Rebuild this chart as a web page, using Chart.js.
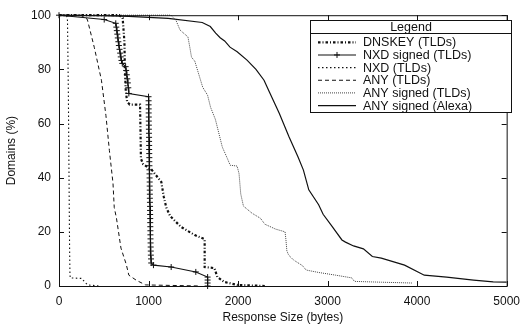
<!DOCTYPE html>
<html>
<head>
<meta charset="utf-8">
<script src="https://cdn.jsdelivr.net/npm/chart.js@4.4.1/dist/chart.umd.min.js"></script>
<style>
  html, body { margin: 0; padding: 0; background: #fff; }
  #wrap { width: 528px; height: 325px; }
</style>
</head>
<body>
<div id="wrap"><canvas id="chart" width="528" height="325"></canvas></div>
<script>
// ---- data: [response size (bytes), domains (%)] ----
const xTicks = [0, 1000, 2000, 3000, 4000, 5000];
const yTicks = [0, 20, 40, 60, 80, 100];

const dnskeyTlds = [
  [0,100],[672,100],[711,99],[731,90],[736,80],[746,72],[761,68],[790,67],[905,67],
  [912,54],[915,47],[940,45],[1033,43],[1143,38.4],[1170,33],[1198,29],[1242,25.8],
  [1363,21.8],[1517,18.8],[1627,17.3],[1627,7],[1736,6.6],[1769,3.3],[1846,1.5],
  [1989,0.4],[2300,0]
];

const nxdSignedTlds = [
  [0,100],[505,98.4],[634,97],[640,95.6],[646,94.3],[651,93],[657,91.6],[663,90.2],
  [669,88.8],[676,87.4],[683,86],[690,84.6],[698,83.3],[707,82.2],[744,81],[750,79.6],
  [757,78],[763,76.5],[769,75],[774,73.2],[780,71.1],[1000,69.9],[1001,68.4],
  [1001,66.9],[1002,65.4],[1002,63.9],[1003,62.4],[1003,60.9],[1004,59.4],[1004,57.9],
  [1005,56.4],[1006,54.9],[1006,53.4],[1007,51.9],[1007,50.4],[1008,48.9],[1009,47.4],
  [1009,45.9],[1010,44.4],[1011,42.9],[1011,41.4],[1012,39.9],[1013,38.4],[1013,36.9],
  [1014,35.4],[1015,33.9],[1015,32.4],[1016,30.9],[1017,29.4],[1017,27.9],[1018,26.4],
  [1019,24.9],[1019,23.4],[1020,21.9],[1021,20.4],[1021,18.9],[1022,17.4],[1023,15.9],
  [1024,14.4],[1025,12.9],[1026,11.4],[1028,10],[1030,8.5],[1055,7.7],[1253,7],
  [1528,5.2],[1660,3.3],[1660,2.2],[1660,1.1],[1660,0]
];

const nxdTlds = [
  [0,100],[85,100],[95,98],[105,70],[112,40],[118,15],[122,5],[125,3],[250,2.8],
  [320,0.4],[450,0]
];

const anyTlds = [
  [0,100],[245,100],[316,98.5],[395,88],[474,76],[524,63],[563,50],[603,38],[617,29],
  [642,25],[692,14],[751,8],[780,4],[869,2],[968,0.4],[1580,0]
];

const anySignedTlds = [
  [0,100],[1250,100],[1308,98],[1352,94.5],[1440,92],[1462,88],[1480,84.5],[1517,83],
  [1572,77],[1605,73.4],[1659,70.5],[1693,66],[1747,61.5],[1824,51.3],[1879,47.2],
  [1912,44.6],[1989,44.3],[2011,41.5],[2030,34],[2060,29.5],[2155,26.9],[2250,25],
  [2300,22.8],[2420,21],[2525,20],[2535,17],[2545,13],[2565,11.4],[2620,9.6],
  [2720,7.5],[2760,5.9],[2900,5],[3090,4],[3270,3],[3300,1.7],[3600,1.4],[3950,1.1]
];

const anySignedAlexa = [
  [0,100],[500,99.8],[780,99.6],[1220,98.8],[1600,97.3],[1690,95.8],[1750,93.4],
  [1800,91.7],[1850,90.5],[1910,88.2],[1990,86.5],[2100,83.4],[2200,80],[2290,76],
  [2350,71.6],[2460,63.8],[2570,55],[2670,47.6],[2730,42.8],[2790,35.5],[2900,30],
  [2950,26.5],[3050,22],[3160,17],[3200,16.2],[3290,14.8],[3400,13.7],[3500,10.9],
  [3600,10.3],[3860,7.7],[4080,4],[4330,3.3],[4630,2.2],[4850,1.5],[5000,1.4]
];

const FONT = '"Liberation Sans", Arial, sans-serif';
const INK = '#111';

const toXY = arr => arr.map(([x, y]) => ({ x, y }));

const series = [
  { label: 'DNSKEY (TLDs)',       data: dnskeyTlds,     width: 2.2, dash: [2.5, 2, 1, 2], color: '#111' },
  { label: 'NXD signed (TLDs)',   data: nxdSignedTlds,  width: 1.1, dash: [],             color: '#111', cross: true },
  { label: 'NXD (TLDs)',          data: nxdTlds,        width: 1.1, dash: [1.5, 2.5],     color: '#111' },
  { label: 'ANY (TLDs)',          data: anyTlds,        width: 1,   dash: [4, 3],         color: '#111' },
  { label: 'ANY signed (TLDs)',   data: anySignedTlds,  width: 1,   dash: [1, 1],         color: '#444' },
  { label: 'ANY signed (Alexa)',  data: anySignedAlexa, width: 1.2, dash: [],             color: '#111' },
];

// box round the plot, gnuplot style inward ticks, and the boxed key
const framePlugin = {
  id: 'frame',
  afterDraw(chart) {
    const { ctx, chartArea: a, scales: { x, y } } = chart;
    const tl = 5;
    ctx.save();
    ctx.strokeStyle = INK;
    ctx.lineWidth = 1;
    ctx.setLineDash([]);
    ctx.strokeRect(a.left + 0.5, a.top + 0.5, a.right - a.left, a.bottom - a.top);
    ctx.beginPath();
    xTicks.forEach(v => {
      const px = Math.round(x.getPixelForValue(v)) + 0.5;
      ctx.moveTo(px, a.bottom); ctx.lineTo(px, a.bottom - tl);
      ctx.moveTo(px, a.top);    ctx.lineTo(px, a.top + tl);
    });
    yTicks.forEach(v => {
      const py = Math.round(y.getPixelForValue(v)) + 0.5;
      ctx.moveTo(a.left, py);  ctx.lineTo(a.left + tl, py);
      ctx.moveTo(a.right, py); ctx.lineTo(a.right - tl, py);
    });
    ctx.stroke();

    // key
    const L = 310.5, R = 511.5, T = 20.5, S = 33.5, B = 112.5;
    ctx.fillStyle = '#fff';
    ctx.fillRect(L, T, R - L, B - T);
    ctx.strokeRect(L, T, R - L, B - T);
    ctx.beginPath(); ctx.moveTo(L, S); ctx.lineTo(R, S); ctx.stroke();
    ctx.fillStyle = INK;
    ctx.font = '12.5px ' + FONT;
    ctx.textBaseline = 'middle';
    ctx.textAlign = 'center';
    ctx.fillText('Legend', (L + R) / 2, 27.5);
    ctx.textAlign = 'left';
    series.forEach((s, i) => {
      const yy = 42.3 + i * 12.65;
      ctx.strokeStyle = s.color;
      ctx.lineWidth = s.width;
      ctx.setLineDash(s.dash);
      ctx.beginPath(); ctx.moveTo(318, yy); ctx.lineTo(356, yy); ctx.stroke();
      ctx.setLineDash([]);
      if (s.cross) {
        ctx.lineWidth = 1;
        ctx.beginPath();
        ctx.moveTo(337, yy - 3); ctx.lineTo(337, yy + 3);
        ctx.moveTo(334, yy); ctx.lineTo(340, yy);
        ctx.stroke();
      }
      ctx.fillText(s.label, 363, yy + 0.5);
    });
    ctx.restore();
  }
};

new Chart(document.getElementById('chart'), {
  type: 'line',
  data: {
    datasets: series.map(s => ({
      label: s.label,
      data: toXY(s.data),
      borderColor: s.color,
      backgroundColor: s.color,
      borderWidth: s.width,
      borderDash: s.dash,
      pointStyle: 'cross',
      pointRadius: s.cross ? 3 : 0,
      pointBorderWidth: 1,
      pointBorderColor: s.color,
      tension: 0,
      fill: false,
      clip: s.cross ? false : 2,
    }))
  },
  options: {
    responsive: false,
    devicePixelRatio: 1,
    animation: false,
    layout: { padding: { left: 0, right: 14, top: 15, bottom: 0 } },
    plugins: { legend: { display: false }, tooltip: { enabled: false } },
    scales: {
      x: {
        type: 'linear', min: 0, max: 5000,
        afterBuildTicks: s => { s.ticks = xTicks.map(v => ({ value: v })); },
        afterFit: s => { s.height = 39; },
        grid: { display: false, drawTicks: false },
        border: { display: false },
        ticks: { color: INK, font: { family: FONT, size: 12 }, padding: 8, maxRotation: 0,
                 callback: v => String(v) },
        title: { display: true, text: 'Response Size (bytes)', color: INK,
                 font: { family: FONT, size: 12 }, padding: { top: 0, bottom: 0 } }
      },
      y: {
        type: 'linear', min: 0, max: 100,
        afterBuildTicks: s => { s.ticks = yTicks.map(v => ({ value: v })); },
        afterFit: s => { s.width = 59; },
        grid: { display: false, drawTicks: false },
        border: { display: false },
        ticks: { color: INK, font: { family: FONT, size: 12 }, padding: 8,
                 callback: v => String(v) },
        title: { display: true, text: 'Domains (%)', color: INK,
                 font: { family: FONT, size: 12 }, padding: { top: 4, bottom: 0 } }
      }
    }
  },
  plugins: [framePlugin]
});
</script>
</body>
</html>
